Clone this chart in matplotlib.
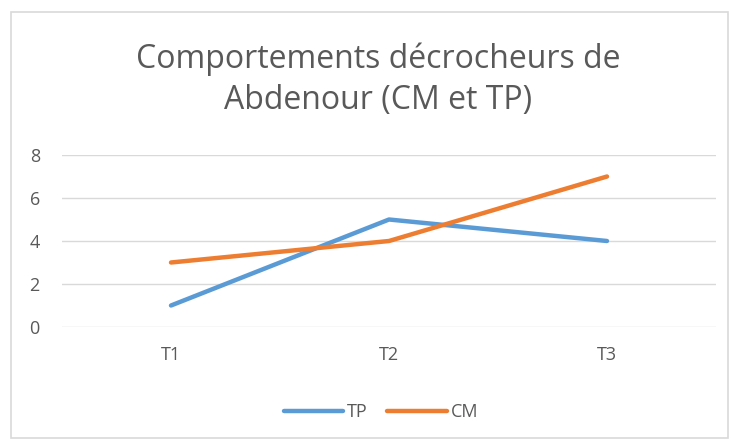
import matplotlib
matplotlib.use("Agg")
import matplotlib.pyplot as plt
from matplotlib.patches import Rectangle
from matplotlib.lines import Line2D

categories = ["T1", "T2", "T3"]
tp_values = [1, 5, 4]
cm_values = [3, 4, 7]
title = "Comportements décrocheurs de\nAbdenour (CM et TP)"

plt.rcParams['font.family'] = ['Open Sans', 'DejaVu Sans']
W, H = 732, 441
fig = plt.figure(figsize=(W/100, H/100), dpi=100)
fig.patch.set_facecolor('white')

# chart border
fig.patches.append(Rectangle((11/W, 1-438/H), (728-11)/W, (438-12)/H,
                             transform=fig.transFigure, fill=False,
                             edgecolor='#D9D9D9', linewidth=1.2))

ax = fig.add_axes([62/W, 1-327/H, (716-62)/W, (327-155)/H])
x = list(range(len(categories)))
blue = '#5B9BD5'
orange = '#ED7D31'
ax.plot(x, tp_values, color=blue, linewidth=3.2, solid_capstyle='round', label='TP', zorder=3)
ax.plot(x, cm_values, color=orange, linewidth=3.2, solid_capstyle='round', label='CM', zorder=3)

ax.set_xlim(-0.5, 2.5)
ax.set_ylim(0, 8)
ax.set_yticks([0, 2, 4, 6, 8])
ax.set_xticks(x)
ax.set_xticklabels(categories)
ax.grid(axis='y', color='#D9D9D9', linewidth=1.0)
ax.set_axisbelow(True)
for s in ax.spines.values():
    s.set_visible(False)
ax.tick_params(axis='both', length=0, labelsize=13, labelcolor='#595959')
ax.tick_params(axis='y', pad=16)
ax.tick_params(axis='x', pad=14)

fig.text(378/W, 1-80/H, title, ha='center', va='center', fontsize=23,
         color='#595959', linespacing=1.33)

handles = [Line2D([0], [0], color=blue, linewidth=3.2, solid_capstyle='round'),
           Line2D([0], [0], color=orange, linewidth=3.2, solid_capstyle='round')]
fig.legend(handles, ['TP', 'CM'], loc='center', bbox_to_anchor=(381/W, 1-412/H),
           ncol=2, frameon=False, fontsize=13, labelcolor='#595959',
           handlelength=3.3, handletextpad=0.2, columnspacing=1.1)

fig.savefig('out.png', dpi=100, facecolor='white')
